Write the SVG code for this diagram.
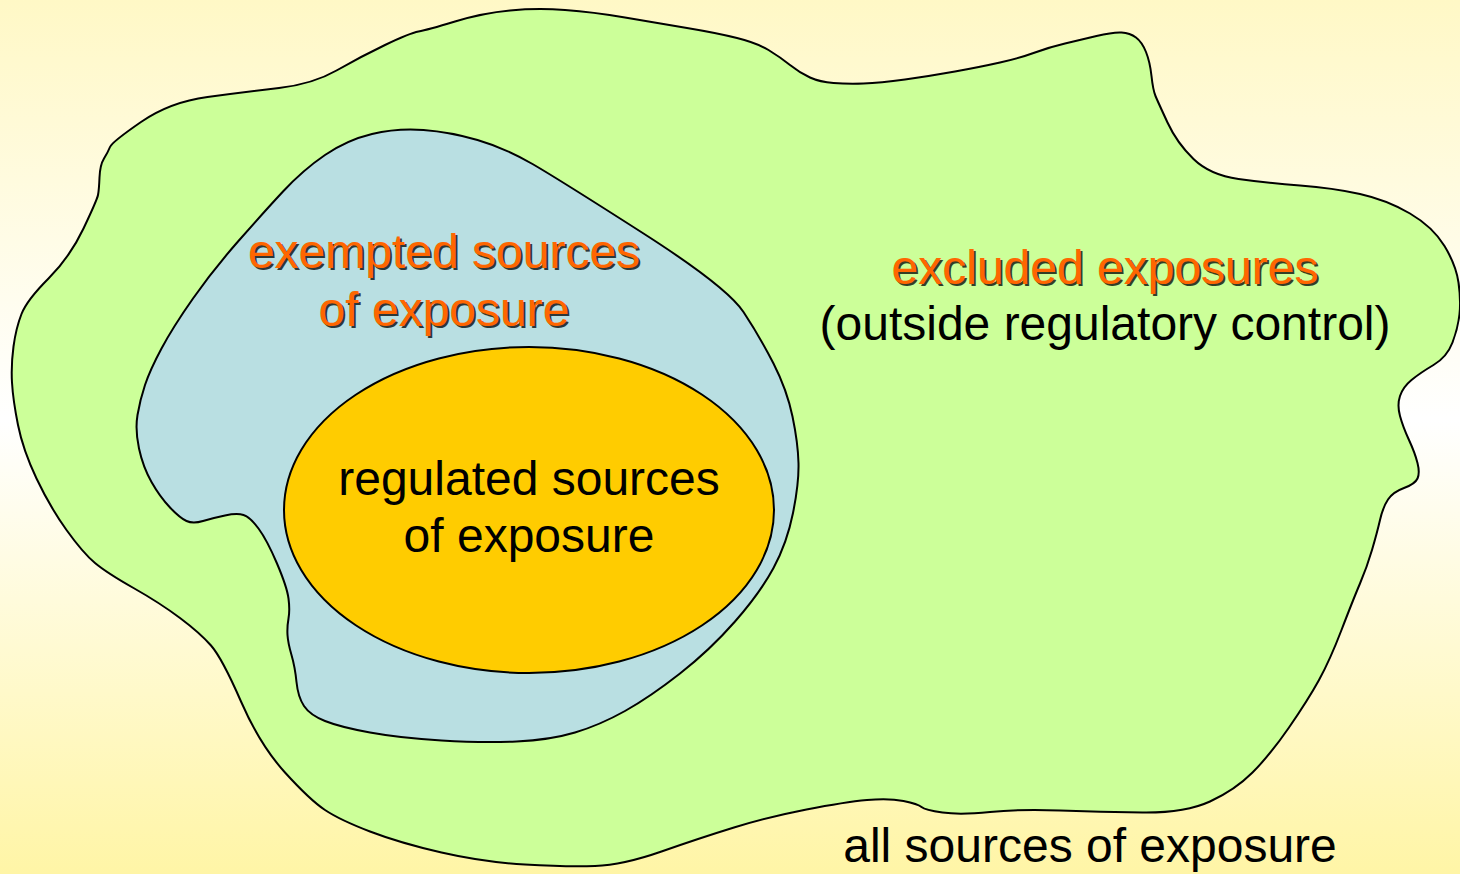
<svg xmlns="http://www.w3.org/2000/svg" width="1460" height="874" viewBox="0 0 1460 874">
<defs>
<linearGradient id="bg" x1="0" y1="0" x2="0" y2="1">
<stop offset="0" stop-color="#FFF8C6"/>
<stop offset="0.48" stop-color="#FFFFFF"/>
<stop offset="1" stop-color="#FFF5A6"/>
</linearGradient>
<style>
.shape{stroke:#000;stroke-width:2;stroke-linejoin:round}
.t{font-family:"Liberation Sans",Arial,sans-serif;font-size:48px;text-anchor:middle}
.blk{fill:#000}
.org{fill:#FF6600}
.sh{fill:#000;fill-opacity:0.75}
</style>
</defs>
<rect x="0" y="0" width="1460" height="874" fill="url(#bg)"/>
<g id="all-sources">
<path class="shape" fill="#CCFF99" d="M 336.5,70.5 Q 360,57 385,45 Q 410,33 418.5,31.5 Q 427,30 455,21.5 Q 483,13 510,10.5 Q 537,8 565,10 Q 593,12 625,17.5 Q 657,23 687,28 Q 717,33 737,38 Q 757,43 768.5,50 Q 780,57 790,65 Q 800,73 810,77.5 Q 820,82 833.5,83 Q 847,84 863.5,83.5 Q 880,83 905,79.5 Q 930,76 955,71.5 Q 980,67 1000,62.5 Q 1020,58 1035,52.5 Q 1050,47 1065,43.5 Q 1080,40 1096.5,36 Q 1113,32 1121.5,32.5 Q 1130,33 1136,37.5 Q 1142,42 1146,52 Q 1150,62 1151.5,76 Q 1153,90 1155.5,96 Q 1158,102 1167.5,122.5 Q 1177,143 1193.5,159 Q 1210,175 1238.5,179 Q 1267,183 1300,185.5 Q 1333,188 1360,194 Q 1387,200 1410,213.5 Q 1433,227 1444.5,246 Q 1456,265 1458.5,282.5 Q 1461,300 1459.5,314 Q 1458,328 1452.5,342.5 Q 1447,357 1433.5,365 Q 1420,373 1411.5,380 Q 1403,387 1400,396 Q 1397,405 1400,416 Q 1403,427 1409,440 Q 1415,453 1417.5,463 Q 1420,473 1417.5,478.5 Q 1415,484 1404,488 Q 1393,492 1388,499.5 Q 1383,507 1380,520 Q 1377,533 1372,550 Q 1367,567 1360,583.5 Q 1353,600 1341.5,630 Q 1330,660 1319,680 Q 1308,700 1289,727.5 Q 1270,755 1252.5,772.5 Q 1235,790 1210,801.5 Q 1185,813 1142.5,812.5 Q 1100,812 1060,810.5 Q 1020,809 990,812 Q 960,815 942.5,812.5 Q 925,810 921.5,807 Q 918,804 903.5,801 Q 889,798 867,800 Q 845,802 806.5,809.5 Q 768,817 734,827.5 Q 700,838 661.5,851.5 Q 623,865 595,866 Q 567,867 525,864.5 Q 483,862 441.5,852.5 Q 400,843 370,831.5 Q 340,820 325,810 Q 310,800 285,772.5 Q 260,745 241,701.5 Q 222,658 211,645.5 Q 200,633 180,618 Q 160,603 133.5,588 Q 107,573 95,563 Q 83,553 66.5,530 Q 50,507 36.5,478.5 Q 23,450 18,425 Q 13,400 12,382.5 Q 11,365 13.5,346.5 Q 16,328 21.5,314 Q 27,300 48.5,278.5 Q 70,257 83.5,228.5 Q 97,200 98,195 Q 99,190 99.5,177.5 Q 100,165 104,158.5 Q 108,152 110,147 Q 112,142 141,122 Q 170,102 207.5,97 Q 245,92 279,88 Q 313,84 336.5,70.5 Z"/>
</g>
<g id="exempted-sources">
<path class="shape" fill="#B9DFE2" d="M 423.5,130 Q 450,132 477.5,140 Q 505,148 532.5,164 Q 560,180 643.5,233.5 Q 727,287 743.5,312 Q 760,337 773.5,363.5 Q 787,390 792.5,416.5 Q 798,443 798.5,463 Q 799,483 793,513 Q 787,543 773.5,568 Q 760,593 735,621.5 Q 710,650 680,673.5 Q 650,697 625,711 Q 600,725 575,732.5 Q 550,740 516.5,741.5 Q 483,743 441.5,740.5 Q 400,738 370,732.5 Q 340,727 325,721 Q 310,715 304,706 Q 298,697 296.5,682 Q 295,667 291.5,655 Q 288,643 287.5,635 Q 287,627 288.5,618.5 Q 290,610 288.5,598.5 Q 287,587 277,563.5 Q 267,540 258.5,528.5 Q 250,517 243.5,515 Q 237,513 225,515.5 Q 213,518 203,521 Q 193,524 186.5,521 Q 180,518 170,507.5 Q 160,497 151.5,482 Q 143,467 139,448.5 Q 135,430 137.5,415 Q 140,400 145,385 Q 150,370 161.5,348.5 Q 173,327 193,298.5 Q 213,270 238,241.5 Q 263,213 283,191.5 Q 303,170 325,155 Q 347,140 372,134 Q 397,128 423.5,130 Z"/>
</g>
<g id="regulated-sources">
<ellipse class="shape" fill="#FFCC00" cx="529" cy="510" rx="245" ry="163"/>
</g>
<g id="labels">
<g id="label-exempted">
<text class="t sh" x="446" y="270">exempted sources</text>
<text class="t org" x="444" y="268">exempted sources</text>
<text class="t sh" x="446" y="328">of exposure</text>
<text class="t org" x="444" y="326">of exposure</text>
</g>
<g id="label-excluded">
<text class="t sh" x="1107" y="286">excluded exposures</text>
<text class="t org" x="1105" y="284">excluded exposures</text>
<text class="t blk" x="1105" y="340">(outside regulatory control)</text>
</g>
<g id="label-regulated">
<text class="t blk" x="529" y="495">regulated sources</text>
<text class="t blk" x="529" y="552">of exposure</text>
</g>
<g id="label-all">
<text class="t blk" x="1090" y="862">all sources of exposure</text>
</g>
</g>
</svg>
